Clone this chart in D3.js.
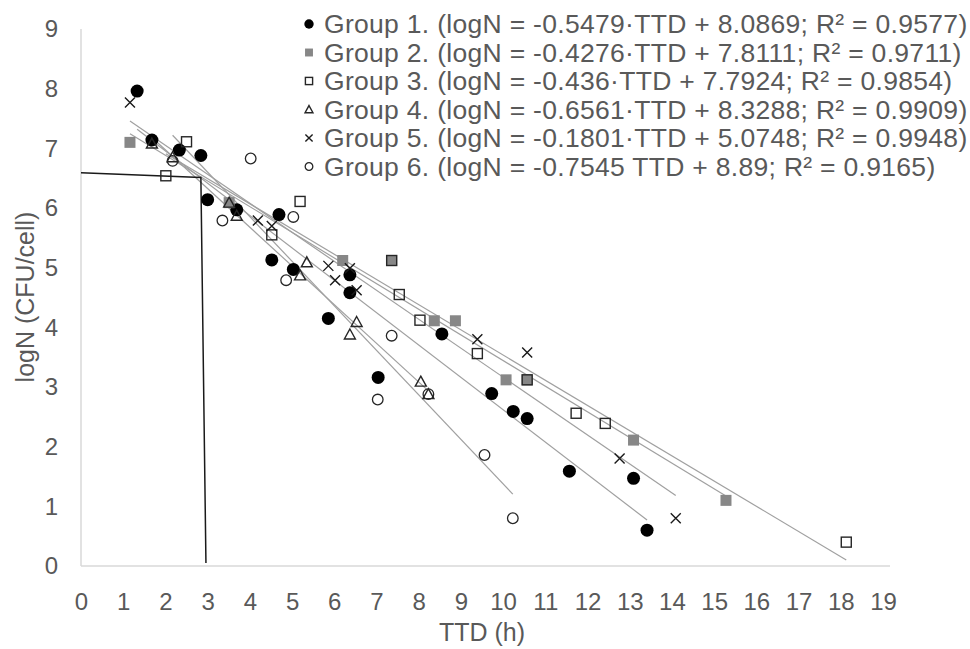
<!doctype html>
<html>
<head>
<meta charset="utf-8">
<title>logN vs TTD</title>
<style>
    body { margin: 0; background: #fff; }
    svg { display: block; font-family: "Liberation Sans", Arial, sans-serif; }
    .axis text { fill: #595959; font-size: 24px; }
    .axis path { stroke: #d9d9d9; stroke-width: 1.5; }
    .trend { fill: none; stroke: #a0a0a0; stroke-width: 1.2; }
    .legend text { fill: #595959; font-size: 26.5px; letter-spacing: 0.3px; }
</style>
<script src="https://d3js.org/d3.v7.min.js"></script>
</head>
<body>
<svg width="970" height="649"></svg>
<script>
    /* data: TTD (h) and logN (CFU/cell) per group */
    var ttd1 = [1.33, 1.68, 2.33, 2.84, 3.00, 3.69, 4.69, 4.52, 5.03, 6.37, 6.37, 5.86, 8.55, 7.04, 9.73, 10.24, 10.57, 11.57, 13.09, 13.41];
    var logN1 = [7.96, 7.14, 6.97, 6.88, 6.14, 5.97, 5.89, 5.13, 4.97, 4.88, 4.58, 4.15, 3.89, 3.16, 2.89, 2.59, 2.47, 1.59, 1.47, 0.60];

    var ttd2 = [1.16, 3.51, 6.20, 7.36, 8.37, 8.87, 10.07, 10.57, 13.09, 15.28];
    var logN2 = [7.10, 6.09, 5.12, 5.12, 4.11, 4.11, 3.12, 3.12, 2.11, 1.10];

    var ttd3 = [2.01, 2.50, 4.52, 5.19, 7.36, 7.54, 8.03, 9.39, 10.57, 11.73, 12.42, 18.13];
    var logN3 = [6.54, 7.11, 5.55, 6.11, 5.12, 4.55, 4.12, 3.56, 3.12, 2.56, 2.39, 0.40];

    var ttd4 = [1.68, 2.17, 3.51, 3.69, 5.35, 5.19, 6.53, 6.37, 8.05, 8.23];
    var logN4 = [7.08, 6.85, 6.09, 5.87, 5.09, 4.87, 4.09, 3.88, 3.09, 2.88];

    var ttd5 = [1.16, 4.19, 4.52, 5.86, 6.37, 6.02, 6.53, 9.39, 10.57, 12.76, 14.09];
    var logN5 = [7.77, 5.79, 5.70, 5.03, 4.99, 4.79, 4.62, 3.80, 3.58, 1.80, 0.80];

    var ttd6 = [2.17, 3.35, 4.02, 4.86, 5.03, 7.03, 7.36, 8.23, 9.56, 10.23];
    var logN6 = [6.79, 5.79, 6.83, 4.79, 5.85, 2.79, 3.86, 2.88, 1.86, 0.80];

    var legendLabels = [
        "Group 1. (logN = -0.5479·TTD + 8.0869; R² = 0.9577)",
        "Group 2. (logN = -0.4276·TTD + 7.8111; R² = 0.9711)",
        "Group 3. (logN = -0.436·TTD + 7.7924; R² = 0.9854)",
        "Group 4. (logN = -0.6561·TTD + 8.3288; R² = 0.9909)",
        "Group 5. (logN = -0.1801·TTD + 5.0748; R² = 0.9948)",
        "Group 6. (logN = -0.7545 TTD + 8.89; R² = 0.9165)"
    ];
    var markerTypes = ["dot", "greySquare", "openSquare", "triangle", "cross", "openCircle"];

    var xTicks = d3.range(0, 20);
    var yTicks = d3.range(0, 10);

    // hand drawn reading line (TTD ~ 2.9 h at logN ~ 6.6)
    var refTTD = [0, 2.84, 2.96];
    var refLogN = [6.59, 6.51, 0.05];

    var svg = d3.select("svg");

    var x = d3.scaleLinear().domain([0, 19]).range([81, 883]);
    var y = d3.scaleLinear().domain([0, 9]).range([566, 29]);

    var groups = [[ttd1, logN1], [ttd2, logN2], [ttd3, logN3], [ttd4, logN4], [ttd5, logN5], [ttd6, logN6]]
        .map(function(p, i) {
            return {
                type: markerTypes[i],
                pts: p[0].map(function(t, j) { return [t, p[1][j]]; })
            };
        });

    // axes
    var xAxis = svg.append("g")
        .attr("class", "axis")
        .attr("transform", "translate(0,566)")
        .call(d3.axisBottom(x).tickValues(xTicks).tickSize(0).tickPadding(27).tickFormat(d3.format("d")));
    xAxis.select(".domain").attr("d", "M81,0H890");

    var yAxis = svg.append("g")
        .attr("class", "axis")
        .attr("transform", "translate(81,0)")
        .call(d3.axisLeft(y).tickValues(yTicks).tickSize(0).tickPadding(23).tickFormat(d3.format("d")));
    yAxis.select(".domain").attr("d", "M0,566V29");

    svg.append("text")
        .attr("x", 482).attr("y", 641)
        .attr("text-anchor", "middle")
        .style("fill", "#595959").style("font-size", "25px")
        .text("TTD (h)");

    svg.append("text")
        .attr("transform", "translate(34,297) rotate(-90)")
        .attr("text-anchor", "middle")
        .style("fill", "#595959").style("font-size", "25px")
        .text("logN (CFU/cell)");

    // least squares trendlines, like Excel does, over each group's TTD range
    var line = d3.line().x(function(d) { return x(d[0]); }).y(function(d) { return y(d[1]); });

    groups.forEach(function(gr) {
        var mx = d3.mean(gr.pts, function(d) { return d[0]; });
        var my = d3.mean(gr.pts, function(d) { return d[1]; });
        var sxy = d3.sum(gr.pts, function(d) { return (d[0] - mx) * (d[1] - my); });
        var sxx = d3.sum(gr.pts, function(d) { return (d[0] - mx) * (d[0] - mx); });
        var b = sxy / sxx, a = my - b * mx;
        var ext = d3.extent(gr.pts, function(d) { return d[0]; });
        svg.append("path")
            .attr("class", "trend")
            .attr("d", line(ext.map(function(t) { return [t, a + b * t]; })));
    });

    // reading lines
    svg.append("path")
        .attr("d", line(refTTD.map(function(t, i) { return [t, refLogN[i]]; })))
        .attr("fill", "none")
        .attr("stroke", "#1a1a1a")
        .attr("stroke-width", 1.5);

    function marker(sel, type, s) {
        if (type == "dot") {
            sel.append("circle").attr("r", 6.5 * s).attr("fill", "#000");
        } else if (type == "greySquare") {
            sel.append("rect").attr("x", -5.5 * s).attr("y", -5.5 * s)
                .attr("width", 11 * s).attr("height", 11 * s).attr("fill", "#878787");
        } else if (type == "openSquare") {
            sel.append("rect").attr("x", -5 * s).attr("y", -5 * s)
                .attr("width", 10 * s).attr("height", 10 * s)
                .attr("fill", "none").attr("stroke", "#262626").attr("stroke-width", 1.4);
        } else if (type == "triangle") {
            sel.append("path")
                .attr("d", "M0," + (-5.5 * s) + "L" + (5.5 * s) + "," + (4.5 * s) + "L" + (-5.5 * s) + "," + (4.5 * s) + "Z")
                .attr("fill", "none").attr("stroke", "#262626").attr("stroke-width", 1.4);
        } else if (type == "cross") {
            var r = 5 * s;
            sel.append("path")
                .attr("d", "M" + (-r) + "," + (-r) + "L" + r + "," + r + "M" + r + "," + (-r) + "L" + (-r) + "," + r)
                .attr("fill", "none").attr("stroke", "#1a1a1a").attr("stroke-width", 1.4);
        } else {
            sel.append("circle").attr("r", 5.3 * s)
                .attr("fill", "none").attr("stroke", "#262626").attr("stroke-width", 1.3);
        }
    }

    groups.forEach(function(gr) {
        svg.append("g").selectAll("g")
            .data(gr.pts)
            .enter().append("g")
            .attr("transform", function(d) { return "translate(" + x(d[0]) + "," + y(d[1]) + ")"; })
            .each(function() { marker(d3.select(this), gr.type, 1); });
    });

    // legend
    var leg = svg.append("g").attr("class", "legend");
    legendLabels.forEach(function(lab, i) {
        var row = leg.append("g").attr("transform", "translate(309," + (24 + i * 28.5) + ")");
        marker(row, markerTypes[i], 0.72);
        row.append("text").attr("x", 15).attr("dy", "0.35em").text(lab);
    });
</script>
</body>
</html>
